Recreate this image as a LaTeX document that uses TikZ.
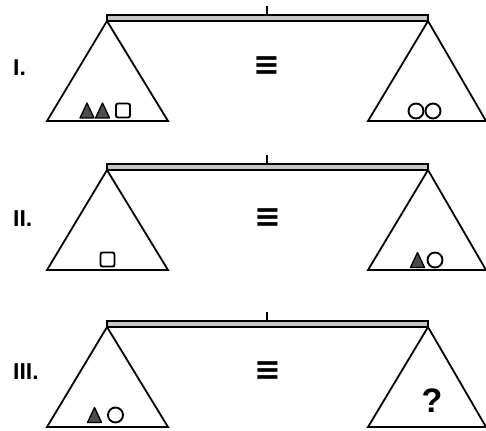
\documentclass[tikz,border=0pt]{standalone}
\usepackage{fontspec}
\setmainfont{Liberation Sans}
\newfontfamily\dejavu{DejaVu Sans}
\newcommand{\mybalance}[2]{%
  \begin{scope}[shift={(0,#1)}]
    \coordinate (tickb#2) at (267,15);
    \coordinate (tickt#2) at (267,6);
    \coordinate (apexL#2) at (107,21);
    \coordinate (apexR#2) at (428,21);
    \coordinate (bLl#2) at (47,121);
    \coordinate (bLr#2) at (168,121);
    \coordinate (bRl#2) at (368,121);
    \coordinate (bRr#2) at (486,121);
    \draw[pan] (apexL#2) -- (bLl#2) -- (bLr#2) -- cycle;
    \draw[pan] (apexR#2) -- (bRl#2) -- (bRr#2) -- cycle;
    \draw[beam] (107,15) rectangle (428,21);
    \draw[tickline] (tickb#2) -- (tickt#2);
  \end{scope}}
\newcommand{\smtri}[2]{\draw[tri] ({#1-7},{#2+7.5}) -- ({#1+7},{#2+7.5}) -- (#1,{#2-7.5}) -- cycle;}
\newcommand{\smsq}[2]{\draw[sq] ({#1-7},{#2-7}) rectangle ({#1+7},{#2+7});}
\newcommand{\smcirc}[2]{\draw[circ] (#1,#2) circle (7.5);}
\begin{document}
\begin{tikzpicture}[x=1pt,y=-1pt,
  pan/.style={draw=black,line width=1.8pt,fill=white,line join=miter},
  beam/.style={draw=black,line width=1.5pt,fill=gray!45},
  tickline/.style={draw=black,line width=2pt},
  tri/.style={draw=black,line width=1.3pt,fill=black!70,line join=round},
  sq/.style={draw=black,line width=1.9pt,rounded corners=2pt},
  circ/.style={draw=black,line width=1.9pt},
  lbl/.style={font=\bfseries\fontsize{23}{23}\selectfont,anchor=west,inner sep=0pt},
  eqv/.style={font=\dejavu\bfseries\fontsize{32}{32}\selectfont,inner sep=0pt},
  qm/.style={font=\bfseries\fontsize{34}{34}\selectfont,inner sep=0pt}]
\useasboundingbox[fill=white] (0,0) rectangle (486,430);

% Panel I
\mybalance{0}{a}
\node[lbl] (labI) at (13,68) {I.};
\node[eqv] (eqI) at (267,66) {≡};
\smtri{87}{110.5}
\smtri{102.5}{110.5}
\smsq{123}{110.5}
\smcirc{416}{111}
\smcirc{433}{111}

% Panel II
\mybalance{149}{b}
\node[lbl] (labII) at (13,219) {II.};
\node[eqv] (eqII) at (268,218) {≡};
\smsq{107.5}{259.5}
\smtri{417.5}{260}
\smcirc{435}{260}

% Panel III
\mybalance{306}{c}
\node[lbl] (labIII) at (13,371.5) {III.};
\node[eqv] (eqIII) at (268,371) {≡};
\smtri{94.5}{415}
\smcirc{115.5}{415}
\node[qm] (qmark) at (432,401) {?};
\end{tikzpicture}
\end{document}
